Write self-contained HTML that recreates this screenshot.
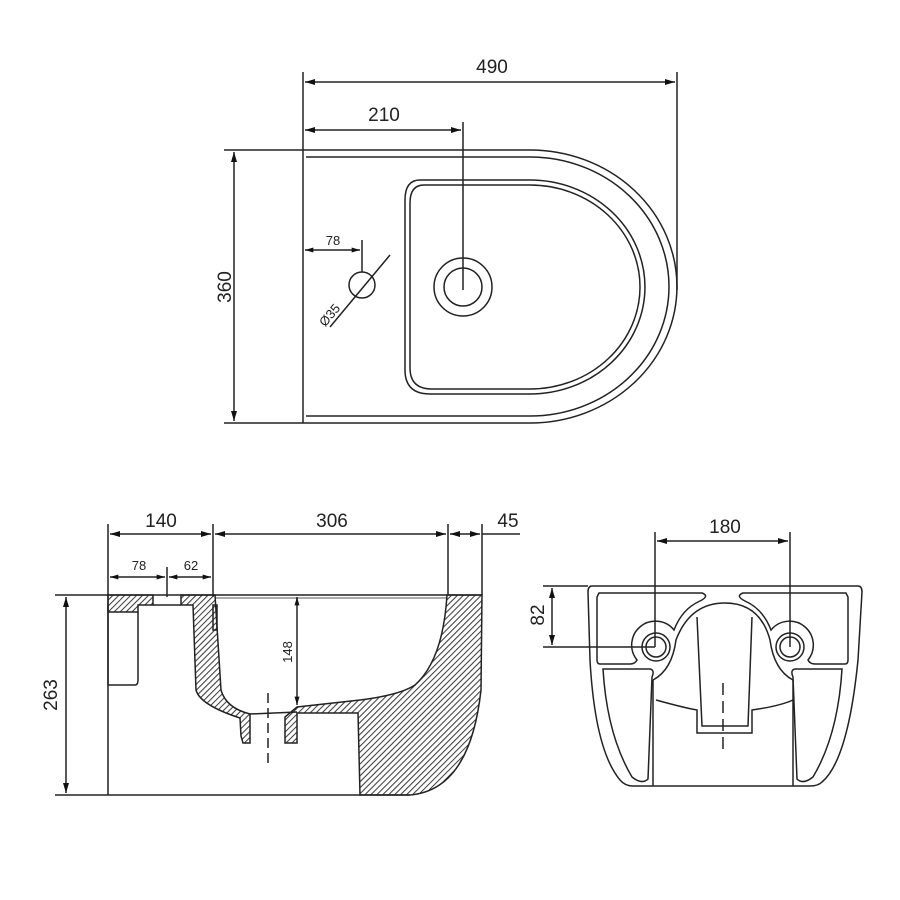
<!DOCTYPE html>
<html><head><meta charset="utf-8"><style>html,body{margin:0;padding:0;background:#fff}svg{display:block}text{font-family:"Liberation Sans",Arial,sans-serif;fill:#222}</style></head>
<body>
<svg width="900" height="900" viewBox="0 0 900 900" xmlns="http://www.w3.org/2000/svg">
<defs>
<pattern id="h" width="4.2" height="4.2" patternUnits="userSpaceOnUse" patternTransform="rotate(45)"><line x1="1" y1="0" x2="1" y2="4.2" stroke="#333" stroke-width="1"/></pattern>
<marker id="a" viewBox="0 0 10 6" refX="10" refY="3" markerWidth="14" markerHeight="6" markerUnits="userSpaceOnUse" orient="auto-start-reverse"><path d="M0,0 L10,3 L0,6 Z" fill="#111"/></marker>
<marker id="s" viewBox="0 0 10 6" refX="10" refY="3" markerWidth="9" markerHeight="5" markerUnits="userSpaceOnUse" orient="auto-start-reverse"><path d="M0,0 L10,3 L0,6 Z" fill="#111"/></marker>
</defs>
<g fill="none" stroke="#222" stroke-width="1.5">
<!-- TOP VIEW -->
<line x1="303" y1="72" x2="303" y2="423"/>
<line x1="677" y1="72" x2="677" y2="290"/>
<line x1="305" y1="82" x2="675" y2="82" marker-start="url(#a)" marker-end="url(#a)"/>
<line x1="305" y1="130" x2="461" y2="130" marker-start="url(#a)" marker-end="url(#a)"/>
<line x1="463" y1="122" x2="463" y2="290"/>
<line x1="224" y1="150" x2="303" y2="150"/>
<line x1="224" y1="423" x2="303" y2="423"/>
<line x1="234" y1="152" x2="234" y2="421" marker-start="url(#a)" marker-end="url(#a)"/>
<path d="M303,150 L530,150 A147,136.5 0 0 1 530,423 L303,423"/>
<path d="M306,157 L530,157 A139,129.5 0 0 1 530,416 L306,416"/>
<path d="M420,180 L530,180 A115,107 0 0 1 530,394 L430,394 Q405,394 405,370 L405,200 Q405,180 420,180 Z"/>
<path d="M424,185 L530,185 A110,102 0 0 1 530,389 L432,389 Q410,389 410,368 L410,203 Q410,185 424,185 Z"/>
<circle cx="463" cy="287" r="29"/>
<circle cx="463" cy="287" r="19"/>
<circle cx="362" cy="285" r="13"/>
<line x1="305" y1="250" x2="360" y2="250" marker-start="url(#s)" marker-end="url(#s)"/>
<line x1="362" y1="240" x2="362" y2="272"/>
<line x1="330" y1="327" x2="390" y2="255"/>
<!-- SIDE VIEW -->
<line x1="108" y1="524" x2="108" y2="795"/>
<line x1="213" y1="524" x2="213" y2="597"/>
<line x1="448" y1="524" x2="448" y2="595"/>
<line x1="482" y1="524" x2="482" y2="595"/>
<line x1="110" y1="534" x2="211" y2="534" marker-start="url(#a)" marker-end="url(#a)"/>
<line x1="215" y1="534" x2="446" y2="534" marker-start="url(#a)" marker-end="url(#a)"/>
<line x1="450" y1="534" x2="480" y2="534" marker-start="url(#a)" marker-end="url(#a)"/>
<line x1="482" y1="534" x2="520" y2="534"/>
<line x1="110" y1="577" x2="165" y2="577" marker-start="url(#s)" marker-end="url(#s)"/>
<line x1="169" y1="577" x2="211" y2="577" marker-start="url(#s)" marker-end="url(#s)"/>
<line x1="167" y1="567" x2="167" y2="597"/>
<line x1="55" y1="595" x2="482" y2="595"/>
<line x1="55" y1="795" x2="410" y2="795"/>
<line x1="66" y1="597" x2="66" y2="793" marker-start="url(#a)" marker-end="url(#a)"/>
<line x1="215" y1="598" x2="447" y2="598" stroke-width="0.8"/>
<line x1="297" y1="597" x2="297" y2="705" marker-start="url(#s)" marker-end="url(#s)"/>
<line x1="153" y1="605" x2="181" y2="605"/>
<path d="M108,605 L108,685 L135,685 Q138,685 138,680 L138,612"/>
<g fill="url(#h)">
<path d="M108,595 L153,595 L153,605 L138,605 L138,612 L108,612 Z"/>
<path d="M181,595 L215,595 L221,690 Q226,708 250,714 L250,743 L243,743 L241,736 L240,718 Q200,705 196,690 L193,605 L181,605 Z"/>
<path d="M285,743 L285,717 L297,707 L360,700 Q400,695 415,685 Q443,660 447,595 L482,595 L481,690 Q470,790 410,795 L360,795 L358,713 L297,713 L297,743 Z"/>
</g>
<rect x="213" y="605" width="4" height="25"/>
<path d="M250,714 L297,712"/>
<line x1="268" y1="693" x2="268" y2="767" stroke-dasharray="10,5"/>
<!-- REAR VIEW -->
<line x1="655" y1="532" x2="655" y2="647"/>
<line x1="790" y1="532" x2="790" y2="647"/>
<line x1="657" y1="541" x2="788" y2="541" marker-start="url(#a)" marker-end="url(#a)"/>
<line x1="543" y1="586" x2="588" y2="586"/>
<line x1="543" y1="647" x2="655" y2="647"/>
<line x1="552" y1="588" x2="552" y2="645" marker-start="url(#a)" marker-end="url(#a)"/>
<path d="M592,586 L858,586 Q862,586 862,592 L858,660 Q848,760 822,782 Q818,786 810,786 L633,786 Q625,786 620,780 Q595,750 590,660 L588,592 Q588,586 592,586 Z"/>
<path d="M599,593 L702,593 Q710,596 700,601 Q682,609 674,630 A20,20 0 1 0 637,660 Q635,664 630,664 L600,664 Q597,664 597,660 L597,597 Z"/>
<path d="M846,593 L743,593 Q735,596 745,601 Q763,609 771,630 A20,20 0 1 1 808,660 Q810,664 815,664 L845,664 Q848,664 848,660 L848,597 Z"/>
<path d="M603,669 L650,669 Q655,670 652,677 L648,779 Q642,785 632,777 Q607,735 603,669 Z"/>
<path d="M842,669 L795,669 Q790,670 793,677 L797,779 Q803,785 813,777 Q838,735 842,669 Z"/>
<path d="M653,680 Q672,670 676,640 Q690,603 725,603 Q760,603 770,640 Q774,670 793,680"/>
<line x1="653" y1="680" x2="653" y2="786"/>
<line x1="793" y1="680" x2="793" y2="786"/>
<path d="M697,617 L702,726 L748,726 L752,617"/>
<path d="M656,700 Q685,708 697,710 L697,733 L752,733 L752,710 Q780,706 793,700"/>
<circle cx="656" cy="647" r="14"/><circle cx="656" cy="647" r="10"/>
<circle cx="790" cy="647" r="14"/><circle cx="790" cy="647" r="10"/>
<line x1="723" y1="683" x2="723" y2="755" stroke-dasharray="12,6"/>
</g>
<g font-size="19">
<text x="492" y="73" text-anchor="middle">490</text>
<text x="384" y="121" text-anchor="middle">210</text>
<text transform="translate(231,287) rotate(-90)" text-anchor="middle">360</text>
<text x="161" y="527" text-anchor="middle">140</text>
<text x="332" y="527" text-anchor="middle">306</text>
<text x="508" y="527" text-anchor="middle">45</text>
<text transform="translate(57,695) rotate(-90)" text-anchor="middle">263</text>
<text x="725" y="533" text-anchor="middle">180</text>
<text transform="translate(544,615) rotate(-90)" text-anchor="middle">82</text>
</g>
<g font-size="13">
<text x="333" y="245" text-anchor="middle">78</text>
<text transform="translate(333,318) rotate(-50)" text-anchor="middle">Ø35</text>
<text x="139" y="570" text-anchor="middle">78</text>
<text x="191" y="570" text-anchor="middle">62</text>
<text transform="translate(292,652) rotate(-90)" text-anchor="middle">148</text>
</g>
</svg>
</body></html>
